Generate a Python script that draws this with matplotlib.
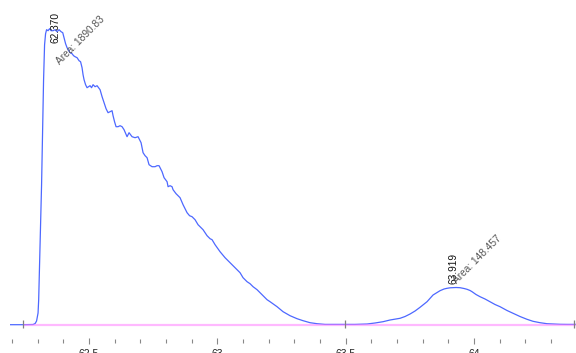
import matplotlib
matplotlib.use("Agg")
import matplotlib.pyplot as plt
from matplotlib.ticker import FixedLocator

# ---- data (retention time in min, signal) ----
time_min = [62.192, 62.243, 62.282, 62.290, 62.2955, 62.3013, 62.3037, 62.309, 62.315, 62.3197,
            62.3228, 62.3267, 62.3306, 62.3345, 62.3403, 62.3462, 62.352, 62.3598, 62.3676, 62.3753,
            62.3831, 62.391, 62.3975, 62.4026, 62.4085, 62.4143, 62.426, 62.4338, 62.4396, 62.4455,
            62.4533, 62.461, 62.4669, 62.4727, 62.4766, 62.4805, 62.4864, 62.4922, 62.4981, 62.5039,
            62.5097, 62.5156, 62.5234, 62.5312, 62.537, 62.5429, 62.5507, 62.5584, 62.5662, 62.574,
            62.5818, 62.5896, 62.5935, 62.5993, 62.6052, 62.613, 62.6208, 62.6286, 62.6363, 62.648,
            62.6558, 62.6617, 62.6675, 62.6792, 62.6909, 62.7026, 62.7104, 62.7182, 62.726, 62.7337,
            62.7454, 62.7571, 62.7649, 62.7727, 62.7844, 62.7922, 62.8039, 62.8078, 62.8156, 62.8233,
            62.8272, 62.8389, 62.8545, 62.8662, 62.8818, 62.8915, 62.9012, 62.9129, 62.9246, 62.9324,
            62.9441, 62.9597, 62.9714, 62.9792, 62.9909, 63.0103, 63.0298, 63.0493, 63.0688, 63.0882,
            63.0999, 63.1155, 63.1272, 63.1389, 63.1545, 63.1661, 63.1817, 63.1934, 63.2051, 63.2324,
            63.2558, 63.283, 63.3103, 63.3337, 63.3609, 63.3882, 63.4194, 63.4973, 63.5362, 63.5829,
            63.6141, 63.6453, 63.6726, 63.7115, 63.731, 63.7505, 63.77, 63.7894, 63.8167, 63.8401,
            63.8557, 63.8673, 63.8829, 63.8946, 63.9063, 63.918, 63.9296, 63.9452, 63.9608, 63.9725,
            63.9842, 63.992, 64.0075, 64.0231, 64.0426, 64.0621, 64.0815, 64.1011, 64.1283, 64.1517,
            64.1788, 64.2061, 64.2295, 64.2568, 64.284, 64.3074, 64.3347, 64.362, 64.397]
signal = [0, 0, 0.2, 1.2, 3.7, 11.7, 24.7, 80, 140, 200,
          245, 280, 291, 295, 294, 296, 294, 294, 295, 293,
          295, 293, 292, 287, 281, 277, 272, 271, 269, 268,
          267, 264, 263, 257, 250, 245, 240, 237, 238, 239,
          237, 240, 238, 239, 237, 235, 228, 222, 216, 212,
          213, 214, 209, 203, 198, 198, 199, 198, 195, 188,
          192, 190, 188, 187, 188, 182, 172, 169, 167, 160,
          158, 158, 159, 159, 153, 147, 143, 138, 139, 138,
          135, 131, 127, 120, 112, 109, 108, 105, 100, 98,
          95, 89, 86, 85, 80, 73, 67, 62, 57, 52,
          47, 43, 41, 38, 35, 32, 28, 25, 23, 18,
          13, 9, 6, 4, 2, 1, 0.3, 0.3, 0.3, 0.7,
          1.7, 3, 4.7, 6.4, 8.2, 10.7, 13.7, 17.4, 23, 29.7,
          32.2, 34, 35.7, 36.4, 36.9, 37, 37.2, 37, 36.2, 35.4,
          34.2, 33, 30.2, 28, 25.7, 23, 20.2, 18, 14.2, 11.4,
          8.2, 5.4, 3.4, 2, 1, 0.7, 0.4, 0.3, 0.3]

peak_rt = [62.370, 63.919]
peak_rt_labels = ["62.370", "63.919"]
peak_label_y = [282, 41]
area_labels = ["Area: 1890.83", "Area: 148.457"]
area_label_x = [62.387, 63.9335]
area_label_y = [259.7, 40.7]
integration_marks = [62.243, 63.497, 64.39]
baseline_range = [62.243, 64.397]

major_ticks = [62.5, 63.0, 63.5, 64.0]
major_tick_labels = ["62.5", "63", "63.5", "64"]
minor_ticks = [62.2, 62.3, 62.4, 62.6, 62.7, 62.8, 62.9, 63.1, 63.2, 63.3, 63.4,
               63.6, 63.7, 63.8, 63.9, 64.1, 64.2, 64.3]

plt.rcParams['font.family'] = ['Liberation Sans', 'DejaVu Sans']

fig = plt.figure(figsize=(5.76, 3.53), dpi=100)
ax = fig.add_axes([10 / 576, 12.5 / 353, 566 / 576, 340.5 / 353])
ax.set_xlim(62.192, 64.397)
ax.set_ylim(-15.8, 324.7)

ax.plot(time_min, signal, color='#4d68ff', lw=0.9, zorder=3)
ax.plot(baseline_range, [0, 0], color='#ff80ff', lw=1.6, alpha=0.55, zorder=4,
        solid_capstyle='butt')
ax.vlines(integration_marks, -3.5, 4.5, color='#808080', lw=0.9, zorder=5)

for rt, lab, ly in zip(peak_rt, peak_rt_labels, peak_label_y):
    ax.text(rt, ly, lab, rotation=90, ha='center', va='bottom', fontsize=7.3,
            color='#111111', zorder=6)
for lab, ax_x, ax_y in zip(area_labels, area_label_x, area_label_y):
    ax.text(ax_x, ax_y, lab, rotation=45, rotation_mode='anchor', ha='left',
            va='baseline', fontsize=7.3, color='#555555', zorder=6)

for s in ax.spines.values():
    s.set_visible(False)
ax.set_yticks([])
ax.xaxis.set_major_locator(FixedLocator(major_ticks))
ax.set_xticklabels(major_tick_labels)
ax.xaxis.set_minor_locator(FixedLocator(minor_ticks))
ax.tick_params(axis='x', which='major', direction='inout', length=5, width=0.8,
               color='#888888', labelsize=7.5, labelcolor='#222222', pad=3.5)
ax.tick_params(axis='x', which='minor', direction='inout', length=3, width=0.8,
               color='#888888')
ax.patch.set_alpha(0)

fig.savefig('out.png', dpi=100)
